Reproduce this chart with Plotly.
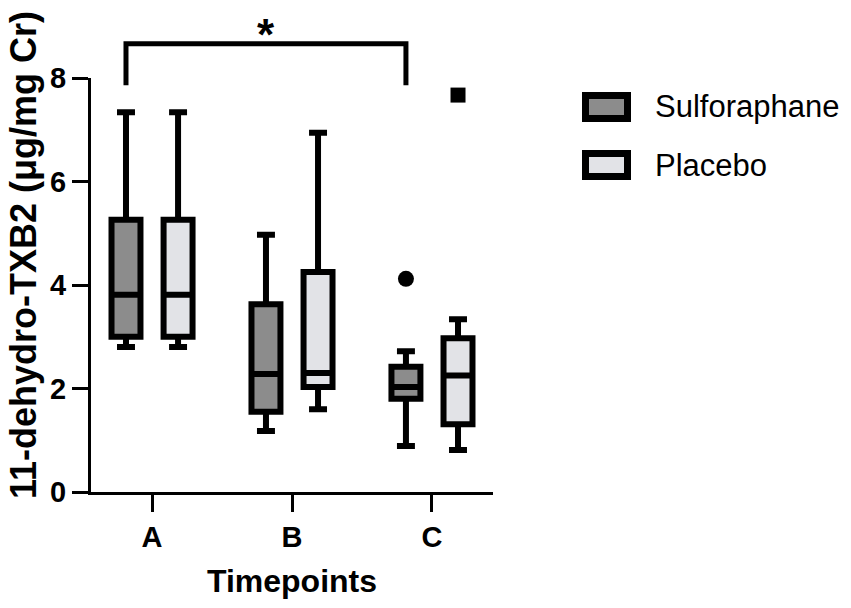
import plotly.graph_objects as go

# Data
timepoints = ["A", "B", "C"]
groups = ["Sulforaphane", "Placebo"]

sulf_min = [2.80, 1.18, 0.89]
sulf_q1 = [3.00, 1.55, 1.80]
sulf_median = [3.81, 2.28, 2.03]
sulf_q3 = [5.26, 3.63, 2.42]
sulf_max = [7.34, 4.97, 2.72]

plac_min = [2.80, 1.60, 0.81]
plac_q1 = [3.00, 2.03, 1.31]
plac_median = [3.81, 2.30, 2.25]
plac_q3 = [5.26, 4.25, 2.97]
plac_max = [7.34, 6.94, 3.34]

# outliers (timepoint, value)
sulf_outliers = [("C", 4.12)]
plac_outliers = [("C", 7.67)]

# significance bracket between A and C (Sulforaphane)
sig_from, sig_to = "A", "C"
sig_top, sig_bottom = 8.66, 7.86
sig_label = "*"

colors = {"Sulforaphane": "#8c8c8c", "Placebo": "#e2e3e7"}
FONT = "Liberation Sans, Arial, sans-serif"

# layout geometry (pixels); page body has an 8px margin
OFF = 8
W, H = 851 - OFF, 608 - OFF
L, T = 91 - OFF, 78 - OFF
R, B = W - (493 - OFF), H - (492 - OFF)
pw, ph = W - L - R, H - T - B
ymax = 8
offset = 0.186
box_w = 0.207


def px_x(p):
    # page pixel -> paper x
    return (p - OFF - L) / pw


def px_y(p):
    # page pixel -> paper y
    return (H - B - (p - OFF)) / ph


pos = {t: i for i, t in enumerate(timepoints)}

fig = go.Figure()

series = {
    "Sulforaphane": (sulf_min, sulf_q1, sulf_median, sulf_q3, sulf_max, -offset, sulf_outliers, "circle", 16),
    "Placebo": (plac_min, plac_q1, plac_median, plac_q3, plac_max, offset, plac_outliers, "square", 15),
}

for name in groups:
    lo, q1, med, q3, hi, off, outl, sym, msize = series[name]
    fig.add_trace(go.Box(
        x=[pos[t] + off for t in timepoints],
        lowerfence=lo, q1=q1, median=med, q3=q3, upperfence=hi,
        width=box_w, whiskerwidth=0.62,
        fillcolor=colors[name], line=dict(color="black", width=6),
        name=name, showlegend=False, boxpoints=False,
    ))
    fig.add_trace(go.Scatter(
        x=[pos[t] + off for t, v in outl], y=[v for t, v in outl],
        mode="markers", marker=dict(symbol=sym, size=msize, color="black"),
        showlegend=False, cliponaxis=False,
    ))

# significance bracket
x0 = pos[sig_from] - offset
x1 = pos[sig_to] - offset
fig.add_shape(type="path", xref="x", yref="paper",
              path=f"M {x0},{sig_bottom / ymax} L {x0},{sig_top / ymax} L {x1},{sig_top / ymax} L {x1},{sig_bottom / ymax}",
              line=dict(color="black", width=5))
fig.add_annotation(x=(x0 + x1) / 2, y=px_y(OFF), xref="x", yref="paper",
                   text=sig_label, showarrow=False, yanchor="top",
                   font=dict(family=FONT, size=44, color="black", weight="bold"))

# custom legend
leg_y = [107, 165]
for name, cy in zip(groups, leg_y):
    fig.add_shape(type="rect", xref="paper", yref="paper",
                  x0=px_x(585.5), x1=px_x(627.5), y0=px_y(cy - 11.5), y1=px_y(cy + 11.5),
                  fillcolor=colors[name], line=dict(color="black", width=7))
    fig.add_annotation(x=px_x(653), y=px_y(cy), xref="paper", yref="paper",
                       text=name, showarrow=False, xanchor="left", yanchor="middle",
                       font=dict(family=FONT, size=31, color="black"))

# y axis title
fig.add_annotation(x=px_x(23), y=px_y(255), xref="paper", yref="paper",
                   text="11-dehydro-TXB2 (μg/mg Cr)", textangle=-90, showarrow=False,
                   xanchor="center", yanchor="middle",
                   font=dict(family=FONT, size=36, color="black", weight="bold"))

fig.update_layout(
    width=W, height=H,
    margin=dict(l=L, r=R, t=T, b=B),
    plot_bgcolor="white", paper_bgcolor="white",
    font=dict(family=FONT, color="black"),
)
fig.update_xaxes(
    range=[-0.436, 2.436], tickvals=list(range(len(timepoints))), ticktext=timepoints,
    showline=True, linecolor="black", linewidth=3, ticks="outside", ticklen=17,
    tickwidth=3, tickcolor="black", showgrid=False, zeroline=False,
    tickfont=dict(family=FONT, size=29, weight="bold"),
    title=dict(text="Timepoints", font=dict(family=FONT, size=32, weight="bold"), standoff=18),
)
fig.update_yaxes(
    range=[0, ymax], tickvals=[0, 2, 4, 6, 8],
    showline=True, linecolor="black", linewidth=3, ticks="outside", ticklen=16,
    tickwidth=3, tickcolor="black", showgrid=False, zeroline=False,
    tickfont=dict(family=FONT, size=29, weight="bold"),
)

fig.write_html("out.html")
